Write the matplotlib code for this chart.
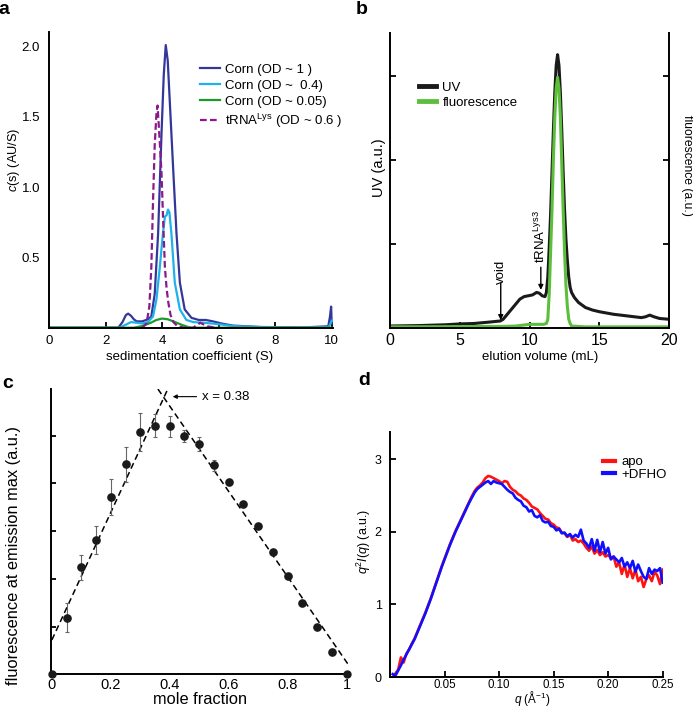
import numpy as np
import matplotlib.pyplot as plt

plt.rcParams['font.family'] = ['Liberation Sans', 'DejaVu Sans']
plt.rcParams['mathtext.fontset'] = 'custom'
plt.rcParams['mathtext.rm'] = 'Liberation Sans'
plt.rcParams['mathtext.it'] = 'Liberation Sans:italic'

# ---- panel a: c(s) distributions
s_hi = [0, 2.45, 2.6, 2.72, 2.8, 2.9, 3.0, 3.1, 3.3, 3.5, 3.62, 3.74, 3.86, 3.98, 4.06, 4.13,
        4.2, 4.27, 4.39, 4.51, 4.63, 4.8, 5.04, 5.3, 5.55, 5.8, 6.1, 6.5, 7.5, 9.0, 9.88, 9.94, 9.98, 10.0]
c_hi = [0, 0, 0.04, 0.09, 0.10, 0.085, 0.06, 0.045, 0.045, 0.06, 0.08, 0.24, 0.67, 1.38, 1.80, 2.01,
        1.90, 1.62, 1.14, 0.67, 0.32, 0.13, 0.07, 0.055, 0.055, 0.045, 0.03, 0.015, 0.005, 0.002, 0.01, 0.08, 0.15, 0.03]
s_mid = [0, 2.5, 2.7, 2.9, 3.1, 3.3, 3.5, 3.68, 3.8, 3.92, 4.03, 4.1, 4.16, 4.21, 4.26, 4.33,
         4.45, 4.63, 4.86, 5.1, 5.5, 6.0, 6.5, 7.5, 9.0, 9.9, 10.0]
c_mid = [0, 0, 0.02, 0.04, 0.035, 0.03, 0.04, 0.08, 0.20, 0.43, 0.67, 0.79, 0.80, 0.84, 0.82, 0.67,
         0.32, 0.13, 0.055, 0.04, 0.035, 0.025, 0.012, 0.004, 0.002, 0.005, 0.05]
s_lo = [0, 3.0, 3.3, 3.6, 3.8, 4.0, 4.2, 4.4, 4.7, 5.0, 10.0]
c_lo = [0, 0, 0.012, 0.035, 0.055, 0.065, 0.06, 0.045, 0.02, 0.0, 0.0]
s_trna = [3.3, 3.45, 3.55, 3.62, 3.68, 3.74, 3.80, 3.84, 3.88, 3.93, 3.98, 4.04, 4.10, 4.16, 4.22,
          4.30, 4.40, 4.55, 4.8, 5.1, 5.35, 5.6, 5.9]
c_trna = [0, 0.03, 0.15, 0.43, 0.90, 1.30, 1.52, 1.58, 1.45, 1.28, 1.10, 0.75, 0.43, 0.28, 0.18,
          0.09, 0.04, 0.01, 0, 0.0, 0.035, 0.01, 0]

# ---- panel b: size exclusion traces
v_uv = [0, 2, 4, 5, 6, 7, 7.9, 8.1, 8.5, 9, 9.3, 9.6, 9.9, 10.2, 10.5, 10.7, 10.9, 11.1, 11.2, 11.3,
        11.4, 11.5, 11.6, 11.7, 11.8, 11.9, 12.0, 12.1, 12.2, 12.3, 12.4, 12.5, 12.6, 12.7, 12.8, 12.9,
        13.0, 13.2, 13.5, 14, 14.5, 15, 16, 17, 18, 18.3, 18.6, 18.9, 19.3, 20]
uv = [0.02, 0.025, 0.035, 0.045, 0.05, 0.065, 0.08, 0.1, 0.18, 0.28, 0.34, 0.37, 0.38, 0.39, 0.42, 0.41,
      0.38, 0.37, 0.42, 0.6, 0.95, 1.35, 1.85, 2.35, 2.8, 3.12, 3.25, 3.12, 2.8, 2.35, 1.85, 1.4, 1.05,
      0.8, 0.6, 0.48, 0.42, 0.36, 0.30, 0.24, 0.21, 0.19, 0.16, 0.14, 0.12, 0.13, 0.15, 0.13, 0.11, 0.10]
v_fl = [0, 8, 9, 9.5, 10, 11, 11.2, 11.3, 11.4, 11.5, 11.6, 11.7, 11.8, 11.9, 12.0, 12.1, 12.2, 12.3,
        12.4, 12.5, 12.6, 12.7, 12.8, 12.9, 13.0, 14, 20]
fl = [0.01, 0.015, 0.02, 0.03, 0.04, 0.04, 0.05, 0.1, 0.4, 0.9, 1.4, 2.0, 2.5, 2.85, 2.98, 2.85, 2.5,
      1.95, 1.4, 0.9, 0.5, 0.25, 0.1, 0.05, 0.02, 0.01, 0.01]

# ---- panel c: Job plot
mole = [0.05, 0.10, 0.15, 0.20, 0.25, 0.30, 0.35, 0.40, 0.45, 0.50, 0.55, 0.60, 0.65, 0.70, 0.75,
        0.80, 0.85, 0.90, 0.95]
fluo = [1.19, 2.24, 2.81, 3.72, 4.40, 5.07, 5.21, 5.20, 4.99, 4.83, 4.38, 4.03, 3.56, 3.11, 2.56,
        2.05, 1.50, 0.99, 0.47]
fluo_err = [0.31, 0.27, 0.29, 0.38, 0.37, 0.40, 0.24, 0.22, 0.13, 0.15, 0.11, 0.07, 0, 0, 0,
            0, 0, 0, 0]
fit_left = (0.72, 13.37)    # intercept, slope
fit_right = (5.80, -8.94)   # value at x_cross, slope
x_cross = 0.38

# ---- panel d: Kratky plot
apo = [0.00, 0.05, 0.10, 0.27, 0.20, 0.32, 0.38, 0.46, 0.53, 0.62, 0.71, 0.80, 0.89, 0.99, 1.09, 1.20,
       1.31, 1.42, 1.53, 1.63, 1.73, 1.83, 1.92, 2.01, 2.09, 2.17, 2.25, 2.33, 2.41, 2.49, 2.56, 2.61,
       2.64, 2.68, 2.74, 2.77, 2.76, 2.74, 2.72, 2.70, 2.67, 2.70, 2.69, 2.62, 2.58, 2.56, 2.52, 2.50,
       2.46, 2.44, 2.40, 2.35, 2.33, 2.31, 2.26, 2.22, 2.18, 2.17, 2.12, 2.10, 2.06, 2.05, 1.99, 1.98,
       1.93, 1.96, 1.88, 1.90, 1.86, 1.88, 1.84, 1.78, 1.74, 1.80, 1.70, 1.75, 1.68, 1.72, 1.66, 1.68,
       1.64, 1.66, 1.52, 1.58, 1.42, 1.55, 1.38, 1.50, 1.36, 1.48, 1.32, 1.38, 1.24, 1.35, 1.40, 1.32,
       1.45, 1.40, 1.28, 1.48]
dfho = [0.04, 0.02, 0.09, 0.16, 0.24, 0.31, 0.38, 0.45, 0.52, 0.61, 0.70, 0.79, 0.88, 0.98, 1.08, 1.19,
        1.30, 1.41, 1.52, 1.62, 1.72, 1.82, 1.91, 2.00, 2.08, 2.16, 2.24, 2.32, 2.40, 2.47, 2.54, 2.59,
        2.62, 2.65, 2.68, 2.70, 2.66, 2.70, 2.68, 2.67, 2.66, 2.62, 2.58, 2.55, 2.53, 2.47, 2.44, 2.42,
        2.36, 2.34, 2.28, 2.30, 2.22, 2.20, 2.23, 2.15, 2.13, 2.14, 2.08, 2.07, 2.02, 2.04, 1.98, 1.99,
        1.94, 1.97, 1.92, 1.96, 1.93, 2.03, 1.88, 1.84, 1.78, 1.90, 1.74, 1.89, 1.72, 1.86, 1.70, 1.78,
        1.62, 1.66, 1.62, 1.58, 1.64, 1.52, 1.58, 1.50, 1.60, 1.45, 1.55, 1.46, 1.38, 1.35, 1.50, 1.42,
        1.48, 1.46, 1.50, 1.30]
q = 0.0025 * np.arange(1, len(apo) + 1)

fig = plt.figure(figsize=(6.93, 7.08), dpi=100)


def style(ax, size, lw=1.4):
    for side in ['top', 'right']:
        ax.spines[side].set_visible(False)
    for side in ['left', 'bottom']:
        ax.spines[side].set_linewidth(lw)
    ax.tick_params(direction='in', width=1.3, length=4.5, labelsize=size)


# ================= a
ax = fig.add_axes([49 / 693, 1 - 327.7 / 708, 284.1 / 693, 295.7 / 708])
style(ax, 9.5)
ax.plot(s_hi, c_hi, color='#34379a', lw=1.6, label='Corn (OD ~ 1 )')
ax.plot(s_mid, c_mid, color='#1fb2ea', lw=1.6, label='Corn (OD ~  0.4)')
ax.plot(s_lo, c_lo, color='#1e9a2c', lw=1.6, label='Corn (OD ~ 0.05)')
ax.plot(s_trna, c_trna, color='#8a1a8c', lw=1.6, ls=(0, (3, 1.5)),
        label='tRNA$^{\\mathrm{Lys}}$ (OD ~ 0.6 )')
ax.set_xlim(0, 10.05)
ax.set_ylim(0, 2.103)
ax.set_xticks([0, 2, 4, 6, 8, 10])
ax.set_yticks([0.5, 1.0, 1.5, 2.0])
ax.set_yticklabels(['0.5', '1.0', '1.5', '2.0'])
ax.tick_params(axis='y', length=0, pad=6.5)
ax.tick_params(axis='x', pad=5)
ax.legend(loc='upper left', bbox_to_anchor=(0.531, 0.893), frameon=False, fontsize=9.5,
          handlelength=1.5, handletextpad=0.4, labelspacing=0.28, borderpad=0, borderaxespad=0)
fig.text(14 / 693, 1 - 160 / 708, '$\\mathit{c}$(s) (AU/S)', rotation=90, ha='center', va='center',
         fontsize=9.2)
fig.text(190 / 693, 1 - 357 / 708, 'sedimentation coefficient (S)', ha='center', va='center',
         fontsize=9.5)

# ================= b
bx = fig.add_axes([390 / 693, 1 - 327.7 / 708, 279.3 / 693, 294.7 / 708])
style(bx, 11.5)
bx.spines['right'].set_visible(True)
bx.spines['right'].set_linewidth(1.4)
bx.plot(v_uv, uv, color='#1a1a1a', lw=2.2, label='UV')
bx.plot(v_fl, fl, color='#5cbf3c', lw=2.2, label='fluorescence')
bx.set_xlim(0, 20)
bx.set_ylim(0, 3.508)
bx.set_xticks([0, 5, 10, 15, 20])
bx.set_yticks([1, 2, 3])
bx.tick_params(axis='y', left=True, right=True, labelleft=False)
bx.tick_params(axis='x', pad=4)
leg = bx.legend(loc='upper left', bbox_to_anchor=(0.105, 0.835), frameon=False, fontsize=9.5,
                handlelength=1.25, handletextpad=0.5, labelspacing=0.2, borderpad=0, borderaxespad=0)
for h in leg.get_lines():
    h.set_linewidth(3.5)
bx.annotate('', xy=(7.93, 0.09), xytext=(7.93, 0.53),
            arrowprops=dict(arrowstyle='-|>', lw=1, color='black', mutation_scale=7,
                            shrinkA=0, shrinkB=0))
bx.text(7.93, 0.66, 'void', rotation=90, ha='center', va='center', fontsize=9.5)
bx.annotate('', xy=(10.8, 0.45), xytext=(10.8, 0.72),
            arrowprops=dict(arrowstyle='-|>', lw=1, color='black', mutation_scale=7,
                            shrinkA=0, shrinkB=0))
bx.text(10.8, 0.77, 'tRNA$^{\\mathrm{Lys3}}$', rotation=90, ha='center', va='bottom', fontsize=9.5)
fig.text(379 / 693, 1 - 168 / 708, 'UV (a.u.)', rotation=90, ha='center', va='center', fontsize=10.5)
fig.text(687 / 693, 1 - 165 / 708, 'fluorescence (a.u.)', rotation=270, ha='center', va='center',
         fontsize=8.7)
fig.text(540 / 693, 1 - 357 / 708, 'elution volume (mL)', ha='center', va='center', fontsize=9.5)

# ================= c
cx = fig.add_axes([50.7 / 693, 1 - 674.3 / 708, 297.6 / 693, 285.3 / 708])
style(cx, 10.5)
x_l = np.array([0.0, (5.98 - fit_left[0]) / fit_left[1]])
x_r = np.array([x_cross + (5.98 - fit_right[0]) / fit_right[1], 1.005])
cx.plot(x_l, fit_left[0] + fit_left[1] * x_l, color='black', lw=1.1, ls=(0, (4, 2.5)))
cx.plot(x_r, fit_right[0] + fit_right[1] * (x_r - x_cross), color='black', lw=1.1, ls=(0, (4, 2.5)))
cx.errorbar(mole, fluo, yerr=fluo_err, fmt='o', color='#1a1a1a', ms=5.2, ecolor='#666666',
            elinewidth=0.8, capsize=1.5, capthick=0.8)
cx.plot([0, 1.0], [0, 0], 'o', color='#1a1a1a', ms=5, clip_on=False, zorder=5)
cx.set_xlim(-0.004, 1.006)
cx.set_ylim(0, 5.98)
cx.set_xticks([0, 0.2, 0.4, 0.6, 0.8, 1.0])
cx.set_xticklabels(['0', '0.2', '0.4', '0.6', '0.8', '1'])
cx.set_yticks([1, 2, 3, 4, 5])
cx.tick_params(axis='y', labelleft=False, length=3.5)
cx.tick_params(axis='x', length=0, pad=3)
cx.annotate('x = 0.38', xy=(0.41, 5.82), xytext=(0.51, 5.82), va='center', fontsize=9.5,
            arrowprops=dict(arrowstyle='-|>', lw=0.8, color='black', mutation_scale=6,
                            shrinkA=2, shrinkB=0))
fig.text(14 / 693, 1 - 556 / 708, 'fluorescence at emission max (a.u.)', rotation=90, ha='center',
         va='center', fontsize=11.8)
fig.text(200 / 693, 1 - 704 / 708, 'mole fraction', ha='center', va='baseline', fontsize=11.8)

# ================= d
dx = fig.add_axes([390 / 693, 1 - 677 / 708, 272.7 / 693, 245.3 / 708])
style(dx, 8.3)
dx.tick_params(axis='y', labelsize=9)
dx.plot(q, apo, color='#ff1212', lw=1.9, label='apo')
dx.plot(q, dfho, color='#1010ff', lw=1.9, label='+DFHO')
dx.set_xlim(0, 0.25)
dx.set_ylim(0, 3.38)
dx.set_xticks([0.05, 0.10, 0.15, 0.20, 0.25])
dx.set_xticklabels(['0.05', '0.10', '0.15', '0.20', '0.25'])
dx.set_yticks([0, 1, 2, 3])
dx.tick_params(axis='x', pad=1.5)
dx.tick_params(axis='y', pad=6)
leg = dx.legend(loc='upper left', bbox_to_anchor=(0.78, 0.9), frameon=False, fontsize=9.5,
                handlelength=0.9, handletextpad=0.5, labelspacing=0.0, borderpad=0, borderaxespad=0)
for h in leg.get_lines():
    h.set_linewidth(3)
fig.text(364 / 693, 1 - 541 / 708, '$\\mathit{q}^2\\mathit{I}(\\mathit{q})$ (a.u.)', rotation=90,
         ha='center', va='center', fontsize=9)
fig.text(532 / 693, 1 - 703.5 / 708, '$\\mathit{q}$ (Å$^{-1}$)', ha='center', va='baseline', fontsize=8.5)

# panel letters
for lab, x, y in [('a', 4, 10), ('b', 362, 9), ('c', 8, 383), ('d', 364, 380)]:
    fig.text(x / 693, 1 - y / 708, lab, ha='center', va='center', fontsize=14, fontweight='bold')

fig.savefig('out.png', dpi=100)
